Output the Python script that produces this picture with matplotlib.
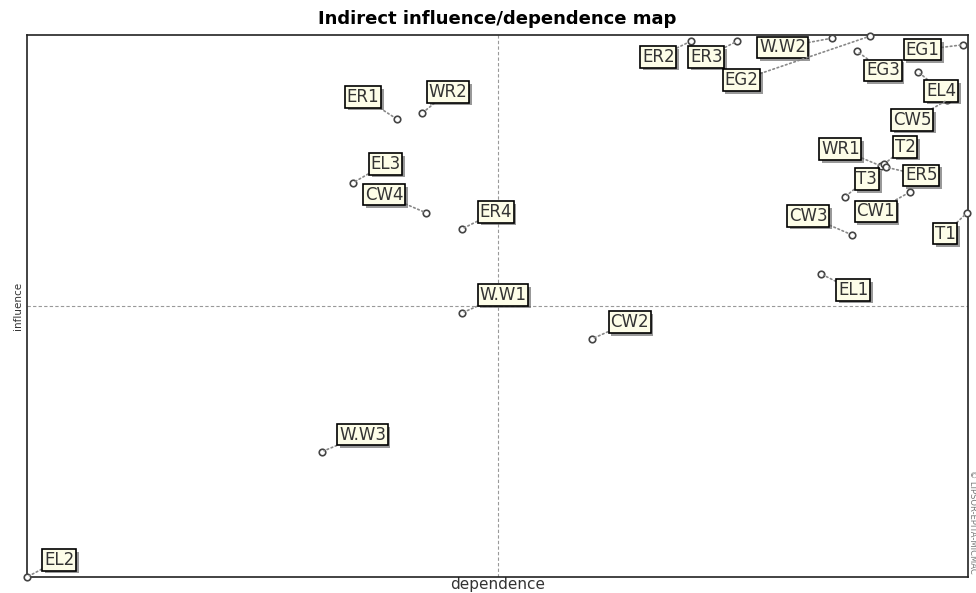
import matplotlib.pyplot as plt
import matplotlib.patheffects as pe

# variables and their indirect dependence / influence (normalised 0-100)
labels = ['EL2', 'W.W3', 'W.W1', 'CW2', 'ER4', 'CW4', 'EL3', 'ER1', 'WR2',
          'ER2', 'ER3', 'W.W2', 'EG2', 'EG3', 'EG1', 'EL4', 'CW5',
          'WR1', 'T2', 'ER5', 'T3', 'CW1', 'CW3', 'T1', 'EL1']
dependence = [0.0, 31.3, 46.2, 60.0, 46.2, 42.4, 34.6, 39.3, 42.0,
              70.6, 75.5, 85.5, 89.6, 88.2, 99.5, 94.7, 97.8,
              90.8, 91.1, 91.3, 86.9, 93.8, 87.7, 99.9, 84.4]
influence = [0.0, 23.1, 48.7, 43.9, 64.2, 67.2, 72.7, 84.5, 85.6,
             98.9, 98.9, 99.4, 99.8, 97.0, 98.2, 93.2, 88.0,
             75.8, 76.2, 75.6, 70.1, 71.0, 63.1, 67.2, 55.9]

# label offsets in pixels (layout only)
offsets = {
    'EL2': (32, 17), 'W.W3': (41, 17), 'W.W1': (41, 18), 'CW2': (38, 17),
    'ER4': (34, 17), 'CW4': (-42, 18), 'EL3': (33, 19), 'ER1': (-34, 22),
    'WR2': (26, 21), 'ER2': (-33, -16), 'ER3': (-31, -16), 'W.W2': (-49, -9),
    'EG2': (-129, -44), 'EG3': (26, -19), 'EG1': (-41, -5), 'EL4': (23, -19),
    'CW5': (-35, -20), 'WR1': (-41, 17), 'T2': (21, 17), 'ER5': (35, -8),
    'T3': (22, 18), 'CW1': (-34, -19), 'CW3': (-44, 19), 'T1': (-22, -21),
    'EL1': (32, -16),
}

fig = plt.figure(figsize=(9.76, 5.93), dpi=100)
ax = fig.add_axes([27/976, 16/593, 941/976, 542/593])

ax.set_xlim(0, 100)
ax.set_ylim(0, 100)
ax.set_xticks([])
ax.set_yticks([])
for s in ax.spines.values():
    s.set_linewidth(1.2)
    s.set_color('#222222')

# quadrant lines
ax.axvline(50, color='#999999', linestyle='--', linewidth=0.8, dashes=(3, 2))
ax.axhline(50, color='#999999', linestyle='--', linewidth=0.8, dashes=(3, 2))

ax.scatter(dependence, influence, s=22, facecolors='white', edgecolors='#444444',
           linewidths=1.2, zorder=5, clip_on=False)

for name, x, y in zip(labels, dependence, influence):
    dx, dy = offsets[name]
    ann = ax.annotate(name, (x, y), xytext=(dx, dy), textcoords='offset pixels',
                      ha='center', va='center', fontsize=12, color='#333333',
                      bbox=dict(boxstyle='square,pad=0.1', fc='#fdfde8', ec='black', lw=1.2),
                      arrowprops=dict(arrowstyle='-', linestyle=':', color='#888888', lw=1.2,
                                      shrinkA=0, shrinkB=2),
                      zorder=6, annotation_clip=False)
    ann.get_bbox_patch().set_path_effects([
        pe.SimplePatchShadow(offset=(2, -2), shadow_rgbFace='#555555', alpha=0.6),
        pe.Normal()])

ax.set_title('Indirect influence/dependence map', fontsize=13, fontweight='bold', pad=8)
ax.set_xlabel('dependence', fontsize=11, color='#333333', labelpad=0)
ax.set_ylabel('influence', fontsize=7.5, color='#333333', labelpad=3)

fig.text(0.996, 0.12, '© LIPSOR-EPITA-MICMAC', rotation=270, fontsize=6,
         color='#777777', ha='center', va='center')

fig.savefig('out.png', dpi=100)
